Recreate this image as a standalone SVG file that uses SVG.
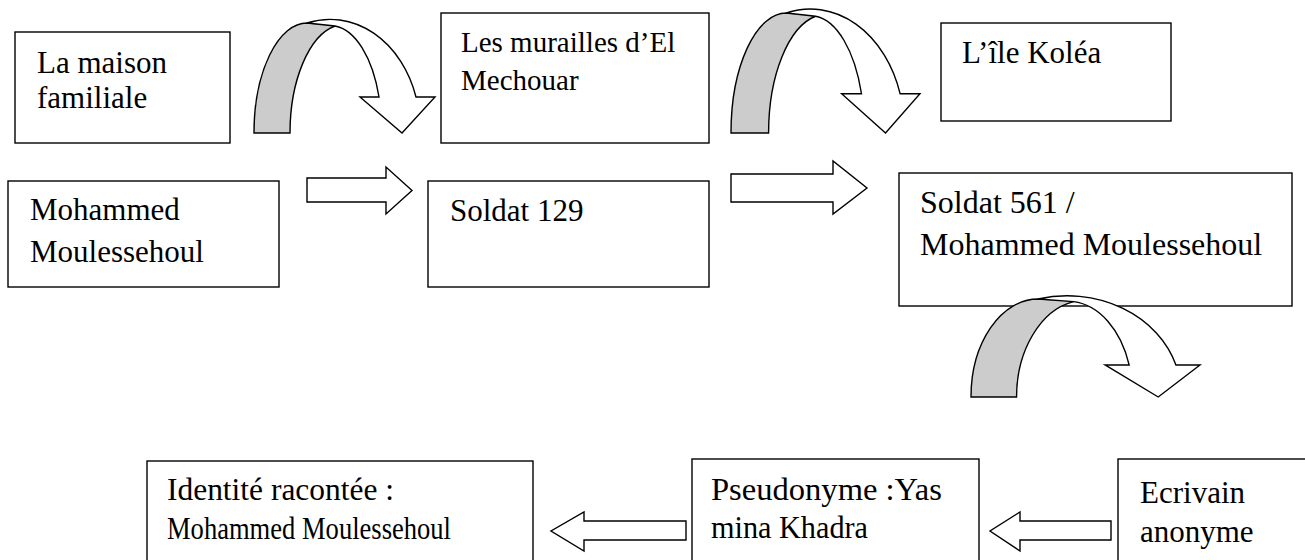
<svg xmlns="http://www.w3.org/2000/svg" width="1305" height="560" viewBox="0 0 1305 560">
<style>
.box{fill:#fff;stroke:#000;stroke-width:1.4}
text{font-family:'Liberation Serif','Times New Roman',Times,serif;fill:#000}
.gray{fill:#cccccc;stroke:#000;stroke-width:1.4;vector-effect:non-scaling-stroke;stroke-linejoin:miter}
.white{fill:#fff;stroke:#000;stroke-width:1.4;vector-effect:non-scaling-stroke;stroke-linejoin:miter}
.arr{fill:#fff;stroke:#000;stroke-width:1.4;stroke-linejoin:miter}
</style>
<defs>
<g id="curved">
<path class="gray" d="M0,110 A53,110 0 0 1 53,0 L70,1 L81,3 A55,109 0 0 0 36,110 Z"/>
<path class="white" d="M53,0 A90,110 0 0 1 162,74 L181,74 L148,110 L106,74 L125,74 A51,105 0 0 0 81,3 Z"/>
</g>
</defs>
<rect width="1305" height="560" fill="#fff"/>

<g id="n1"><rect class="box" x="15" y="32" width="215" height="111"/>
<text font-size="31" x="37" y="73">La maison</text>
<text font-size="31" x="37" y="108">familiale</text></g>

<g id="n2"><rect class="box" x="441" y="13" width="268" height="130"/>
<text font-size="29" x="461" y="52">Les murailles d’El</text>
<text font-size="29" x="461" y="90">Mechouar</text></g>

<g id="n3"><rect class="box" x="941" y="23" width="230" height="98"/>
<text font-size="31" x="962" y="63">L’île Koléa</text></g>

<g id="n4"><rect class="box" x="8" y="181" width="271" height="106"/>
<text font-size="31" x="30" y="220">Mohammed</text>
<text font-size="31" x="30" y="262">Moulessehoul</text></g>

<g id="n5"><rect class="box" x="428" y="181" width="281" height="106"/>
<text font-size="31" x="450" y="221">Soldat 129</text></g>

<g id="n6"><rect class="box" x="899" y="173" width="393" height="133"/>
<text font-size="32" x="920" y="213">Soldat 561 /</text>
<text font-size="32" x="920" y="255">Mohammed Moulessehoul</text></g>

<g id="n7"><rect class="box" x="147" y="461" width="386" height="110"/>
<text font-size="31" x="167" y="500" textLength="227" lengthAdjust="spacingAndGlyphs">Identité racontée :</text>
<text font-size="31" x="167" y="539" textLength="284" lengthAdjust="spacingAndGlyphs">Mohammed Moulessehoul</text></g>

<g id="n8"><rect class="box" x="692" y="459" width="287" height="112"/>
<text font-size="31" x="711" y="500" textLength="231" lengthAdjust="spacingAndGlyphs">Pseudonyme :Yas</text>
<text font-size="31" x="711" y="538" textLength="157" lengthAdjust="spacingAndGlyphs">mina Khadra</text></g>

<g id="n9"><rect class="box" x="1118" y="459" width="200" height="112"/>
<text font-size="31" x="1140" y="503">Ecrivain</text>
<text font-size="31" x="1140" y="542">anonyme</text></g>

<g id="connectors">
<use href="#curved" transform="translate(254,23)"/>
<use href="#curved" transform="translate(731,13) scale(1.044,1.091)"/>
<use href="#curved" transform="translate(971,299) scale(1.265,0.891)"/>
<path class="arr" d="M307,178 L386,178 L386,167 L412,190.5 L386,214 L386,202 L307,202 Z"/>
<path class="arr" d="M731,174 L833,174 L833,161 L867,188 L833,214 L833,202 L731,202 Z"/>
<path class="arr" d="M686,521 L584,521 L584,512 L551,531 L584,551 L584,540 L686,540 Z"/>
<path class="arr" d="M1111,521 L1020,521 L1020,512 L990,531 L1020,551 L1020,540 L1111,540 Z"/>
</g>
</svg>
